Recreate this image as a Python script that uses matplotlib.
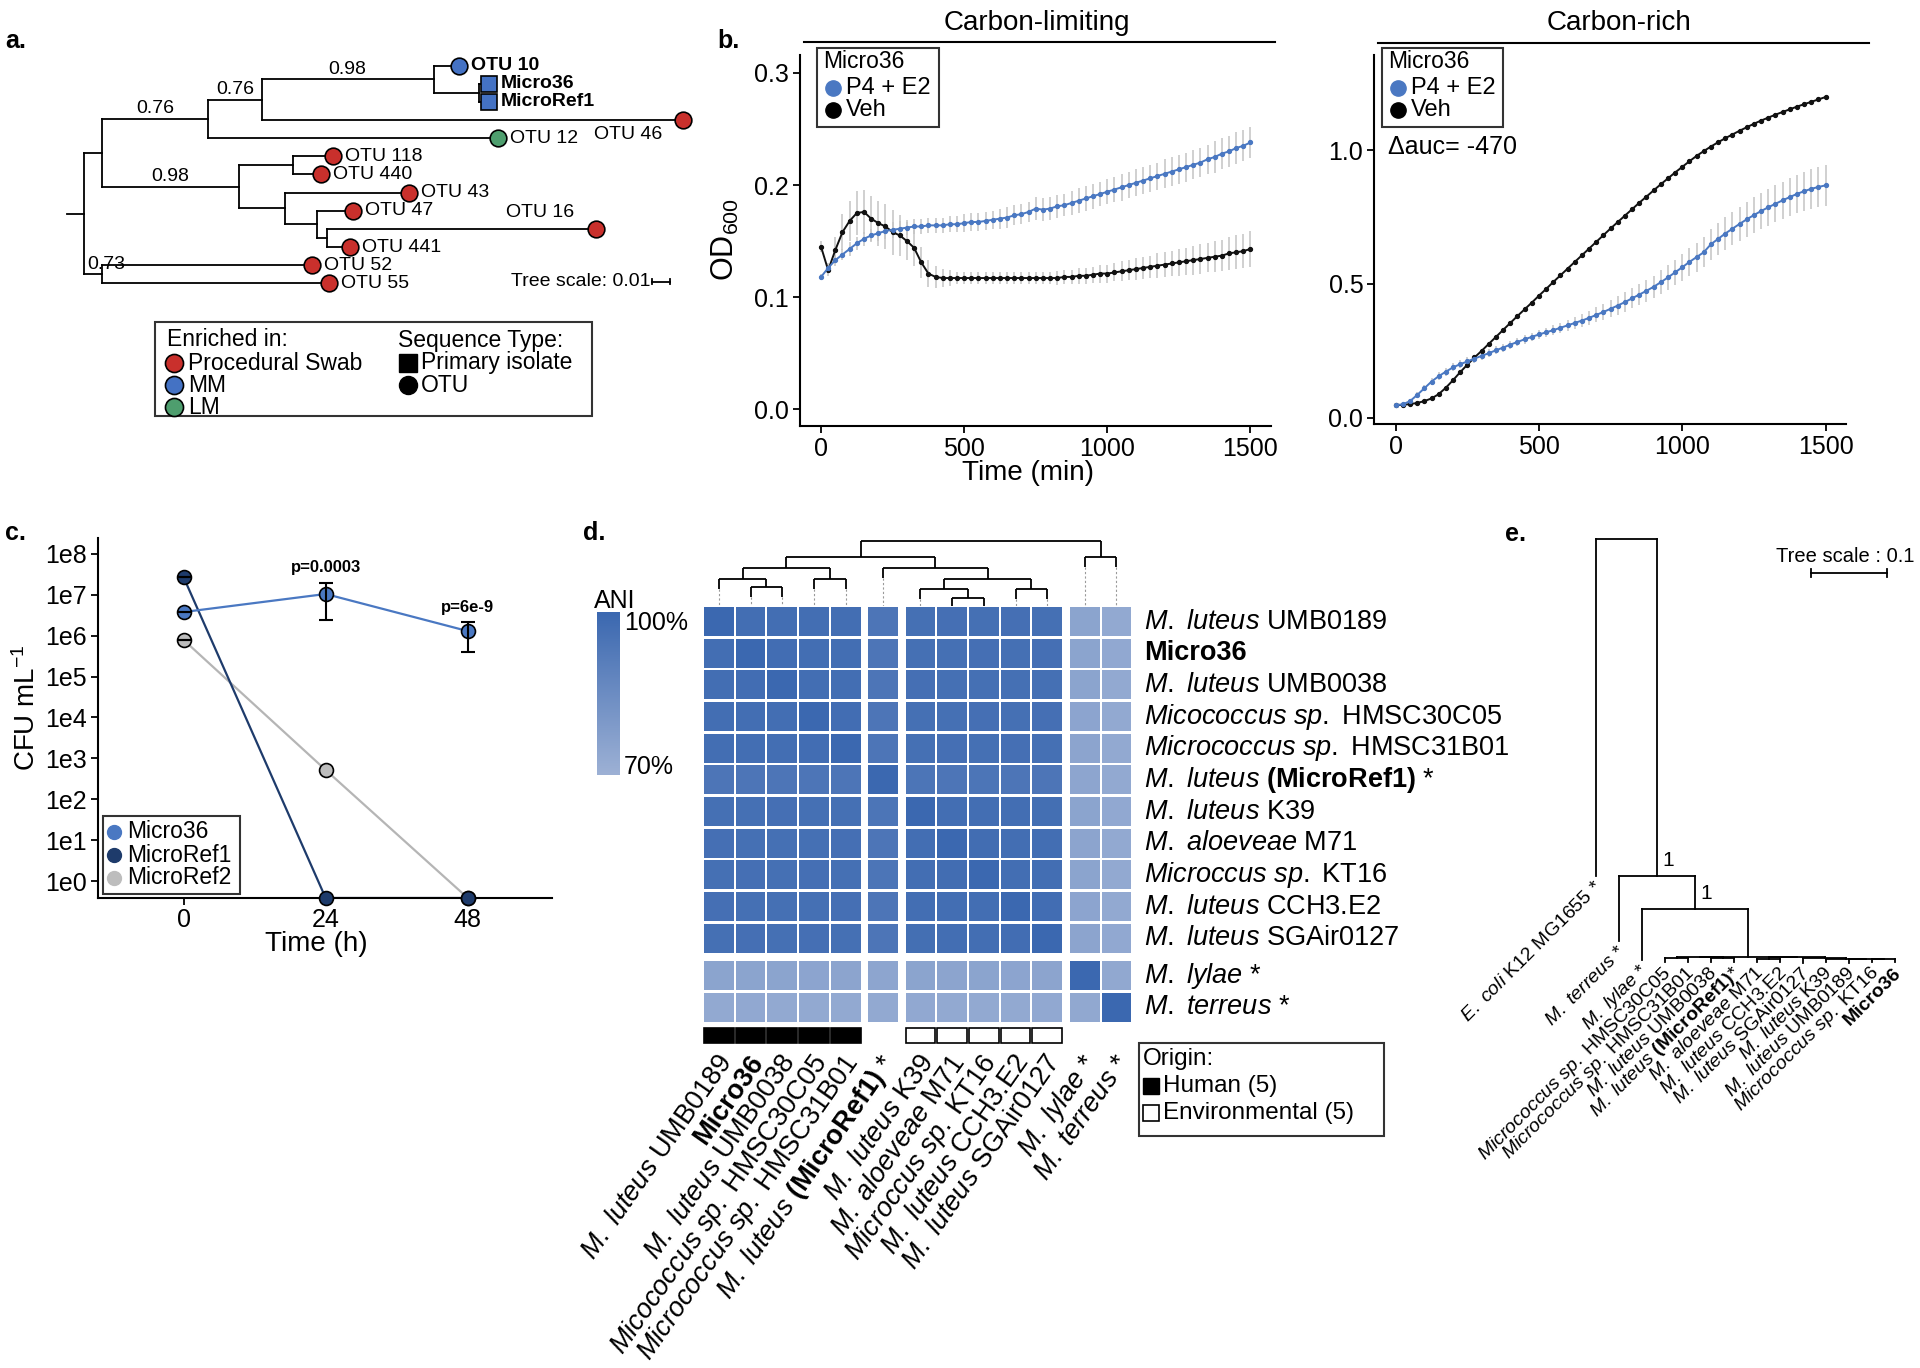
import numpy as np
import matplotlib
matplotlib.use("Agg")
import matplotlib.pyplot as plt
from matplotlib.patches import Rectangle
from matplotlib.lines import Line2D
from matplotlib.collections import LineCollection
from matplotlib.colors import LinearSegmentedColormap, Normalize

plt.rcParams['font.family'] = ['Liberation Sans', 'DejaVu Sans']
plt.rcParams['mathtext.fontset'] = 'custom'
plt.rcParams['mathtext.rm'] = 'Liberation Sans'
plt.rcParams['mathtext.it'] = 'Liberation Sans:italic'
plt.rcParams['mathtext.bf'] = 'Liberation Sans:bold'

# ----------------------------------------------------------------- data
# panel a : 16S tree (name, branch length, support, children)
tree_a = ("", 0.0, None, [
    ("", 0.010, None, [
        ("", 0.0588, "0.76", [
            ("", 0.0293, "0.76", [
                ("", 0.095, "0.98", [
                    ("OTU 10", 0.0138, None, []),
                    ("", 0.025, None, [
                        ("Micro36", 0.0053, None, []),
                        ("MicroRef1", 0.0053, None, []),
                    ]),
                ]),
                ("OTU 46", 0.2325, None, []),
            ]),
            ("OTU 12", 0.160, None, []),
        ]),
        ("", 0.0755, "0.98", [
            ("", 0.030, None, [("OTU 118", 0.022, None, []),
                               ("OTU 440", 0.0153, None, [])]),
            ("", 0.0253, None, [
                ("OTU 43", 0.0688, None, []),
                ("", 0.018, None, [
                    ("OTU 47", 0.020, None, []),
                    ("", 0.0055, None, [("OTU 16", 0.1483, None, []),
                                        ("OTU 441", 0.0128, None, [])]),
                ]),
            ]),
        ]),
    ]),
    ("", 0.010, "0.73", [("OTU 52", 0.1158, None, []),
                         ("OTU 55", 0.1253, None, [])]),
])
root_stem_a = 0.0093
enriched_in = {"OTU 10": "MM", "Micro36": "MM", "MicroRef1": "MM", "OTU 12": "LM"}
primary_isolates = ["Micro36", "MicroRef1"]
bold_tips = ["OTU 10", "Micro36", "MicroRef1"]
group_colors = {"Procedural Swab": "#c9302c", "MM": "#4472c4", "LM": "#4e9e6e"}

# panel b : growth curves (OD600)
time_min = np.arange(0, 1501, 25)
lim_p4 = [0.118, 0.126, 0.133, 0.138, 0.143, 0.148, 0.152, 0.155, 0.157, 0.159,
          0.160, 0.161, 0.162, 0.163, 0.163, 0.164, 0.164, 0.164, 0.165, 0.165,
          0.166, 0.167, 0.167, 0.168, 0.169, 0.170, 0.171, 0.173, 0.174, 0.176,
          0.179, 0.178, 0.179, 0.181, 0.182, 0.184, 0.186, 0.188, 0.190, 0.192,
          0.194, 0.196, 0.198, 0.200, 0.202, 0.204, 0.206, 0.208, 0.210, 0.212,
          0.214, 0.216, 0.218, 0.220, 0.223, 0.225, 0.228, 0.230, 0.233, 0.235,
          0.238]
lim_p4_err = [0.003, 0.004, 0.005, 0.005, 0.006, 0.006, 0.006, 0.006, 0.007, 0.007,
              0.007, 0.007, 0.007, 0.007, 0.007, 0.007, 0.007, 0.007, 0.007, 0.007,
              0.008, 0.008, 0.008, 0.008, 0.008, 0.009, 0.009, 0.009, 0.009, 0.009,
              0.010, 0.010, 0.010, 0.010, 0.010, 0.011, 0.011, 0.011, 0.011, 0.011,
              0.011, 0.011, 0.012, 0.012, 0.012, 0.012, 0.012, 0.012, 0.013, 0.013,
              0.013, 0.013, 0.013, 0.013, 0.013, 0.014, 0.014, 0.014, 0.014, 0.014,
              0.014]
lim_veh = [0.145, 0.124, 0.142, 0.158, 0.168, 0.175, 0.176, 0.170, 0.166, 0.163,
           0.158, 0.155, 0.150, 0.144, 0.131, 0.121, 0.118, 0.117, 0.117, 0.117,
           0.117, 0.117, 0.117, 0.117, 0.117, 0.117, 0.117, 0.117, 0.117, 0.117,
           0.117, 0.117, 0.117, 0.117, 0.118, 0.118, 0.119, 0.119, 0.120, 0.121,
           0.121, 0.122, 0.123, 0.124, 0.125, 0.126, 0.127, 0.128, 0.129, 0.130,
           0.131, 0.132, 0.133, 0.134, 0.135, 0.136, 0.137, 0.139, 0.140, 0.141,
           0.143]
lim_veh_err = [0.005, 0.005, 0.012, 0.016, 0.018, 0.020, 0.020, 0.020, 0.020, 0.020,
               0.020, 0.018, 0.017, 0.016, 0.014, 0.012, 0.010, 0.008, 0.007, 0.005,
               0.005, 0.005, 0.005, 0.005, 0.005, 0.005, 0.005, 0.005, 0.005, 0.005,
               0.005, 0.005, 0.005, 0.006, 0.006, 0.006, 0.007, 0.007, 0.007, 0.008,
               0.008, 0.008, 0.009, 0.009, 0.010, 0.010, 0.010, 0.011, 0.011, 0.011,
               0.012, 0.012, 0.013, 0.013, 0.013, 0.014, 0.014, 0.015, 0.015, 0.015,
               0.016]
rich_p4 = [0.047, 0.050, 0.062, 0.085, 0.110, 0.135, 0.155, 0.172, 0.188, 0.200,
           0.210, 0.221, 0.231, 0.241, 0.252, 0.262, 0.273, 0.283, 0.293, 0.302,
           0.311, 0.319, 0.327, 0.336, 0.345, 0.354, 0.363, 0.373, 0.384, 0.395,
           0.407, 0.419, 0.432, 0.446, 0.460, 0.474, 0.489, 0.506, 0.524, 0.543,
           0.562, 0.582, 0.600, 0.618, 0.648, 0.668, 0.688, 0.706, 0.724, 0.741,
           0.757, 0.772, 0.786, 0.799, 0.812, 0.824, 0.836, 0.846, 0.855, 0.862,
           0.868]
rich_p4_err = [0.004, 0.006, 0.008, 0.010, 0.012, 0.013, 0.014, 0.015, 0.015, 0.015,
               0.015, 0.015, 0.015, 0.015, 0.015, 0.015, 0.015, 0.016, 0.016, 0.016,
               0.017, 0.017, 0.018, 0.019, 0.020, 0.022, 0.024, 0.026, 0.028, 0.030,
               0.032, 0.034, 0.036, 0.037, 0.039, 0.040, 0.042, 0.044, 0.046, 0.048,
               0.050, 0.052, 0.054, 0.056, 0.058, 0.060, 0.061, 0.062, 0.064, 0.065,
               0.066, 0.067, 0.068, 0.069, 0.070, 0.071, 0.072, 0.073, 0.074, 0.075,
               0.076]
rich_veh = [0.047, 0.048, 0.051, 0.055, 0.062, 0.072, 0.088, 0.112, 0.140, 0.170,
            0.198, 0.225, 0.250, 0.276, 0.302, 0.328, 0.354, 0.380, 0.405, 0.430,
            0.456, 0.481, 0.507, 0.532, 0.557, 0.582, 0.607, 0.632, 0.657, 0.682,
            0.707, 0.731, 0.755, 0.779, 0.803, 0.826, 0.849, 0.872, 0.894, 0.916,
            0.937, 0.958, 0.978, 0.996, 1.013, 1.029, 1.044, 1.058, 1.072, 1.085,
            1.098, 1.110, 1.121, 1.132, 1.142, 1.152, 1.162, 1.171, 1.180, 1.189,
            1.198]
rich_veh_err = [0.003, 0.003, 0.004, 0.004, 0.004, 0.005, 0.005, 0.006, 0.006, 0.006,
                0.006, 0.006, 0.006, 0.006, 0.006, 0.006, 0.006, 0.006, 0.006, 0.006,
                0.006, 0.006, 0.006, 0.006, 0.006, 0.006, 0.006, 0.006, 0.006, 0.006,
                0.006, 0.006, 0.006, 0.006, 0.006, 0.006, 0.006, 0.006, 0.006, 0.006,
                0.006, 0.006, 0.006, 0.006, 0.006, 0.006, 0.006, 0.006, 0.006, 0.006,
                0.006, 0.006, 0.006, 0.006, 0.006, 0.006, 0.006, 0.006, 0.006, 0.006,
                0.006]
delta_auc = -470

# panel c : CFU per mL
hours = [0, 24, 48]
cfu_micro36 = [3.8e6, 1.05e7, 1.3e6]
cfu_micro36_lo = [3.8e6, 2.4e6, 4.0e5]
cfu_micro36_hi = [3.8e6, 1.95e7, 2.2e6]
cfu_microref1 = [2.7e7, 0, 0]
cfu_microref2 = [7.9e5, 5.2e2, 0]
pvals = ["p=0.0003", "p=6e-9"]

# panel d : ANI heatmap
genomes = [
    r"$\mathit{M.\ luteus}$ UMB0189",
    "Micro36",
    r"$\mathit{M.\ luteus}$ UMB0038",
    r"$\mathit{Micococcus\ sp.}$ HMSC30C05",
    r"$\mathit{Micrococcus\ sp.}$ HMSC31B01",
    r"$\mathit{M.\ luteus}$ $\mathbf{(MicroRef1)}$ *",
    r"$\mathit{M.\ luteus}$ K39",
    r"$\mathit{M.\ aloeveae}$ M71",
    r"$\mathit{Microccus\ sp.}$ KT16",
    r"$\mathit{M.\ luteus}$ CCH3.E2",
    r"$\mathit{M.\ luteus}$ SGAir0127",
    r"$\mathit{M.\ lylae}$ *",
    r"$\mathit{M.\ terreus}$ *",
]
ani = [
    [100, 97.6, 97.5, 97.4, 97.4, 94.6, 96.8, 96.9, 96.8, 96.9, 96.8, 75.5, 73.5],
    [97.6, 100, 97.8, 97.5, 97.5, 94.5, 96.8, 96.8, 96.9, 96.8, 96.9, 75.4, 73.6],
    [97.5, 97.8, 100, 97.6, 97.5, 94.6, 96.9, 96.8, 96.8, 96.8, 96.8, 75.6, 73.5],
    [97.4, 97.5, 97.6, 100, 97.7, 94.4, 96.8, 96.8, 96.9, 96.8, 96.9, 75.2, 73.4],
    [97.4, 97.5, 97.5, 97.7, 100, 94.5, 96.8, 96.9, 96.8, 96.9, 96.8, 75.3, 73.5],
    [94.6, 94.5, 94.6, 94.4, 94.5, 100, 94.7, 94.6, 94.7, 94.5, 94.6, 75.0, 73.3],
    [96.8, 96.8, 96.9, 96.8, 96.8, 94.7, 100, 97.5, 97.6, 97.4, 97.3, 75.4, 73.6],
    [96.9, 96.8, 96.8, 96.8, 96.9, 94.6, 97.5, 100, 97.9, 97.5, 97.4, 75.3, 73.5],
    [96.8, 96.9, 96.8, 96.9, 96.8, 94.7, 97.6, 97.9, 100, 97.6, 97.5, 75.4, 73.4],
    [96.9, 96.8, 96.8, 96.8, 96.9, 94.5, 97.4, 97.5, 97.6, 100, 97.7, 75.2, 73.5],
    [96.8, 96.9, 96.8, 96.9, 96.8, 94.6, 97.3, 97.4, 97.5, 97.7, 100, 75.3, 73.6],
    [75.5, 75.4, 75.6, 75.2, 75.3, 75.0, 75.4, 75.3, 75.4, 75.2, 75.3, 100, 73.8],
    [73.5, 73.6, 73.5, 73.4, 73.5, 73.3, 73.6, 73.5, 73.4, 73.5, 73.6, 73.8, 100],
]
origin = ["Human"] * 5 + [None] + ["Environmental"] * 5 + [None, None]
col_groups = [5, 1, 5, 2]
row_groups = [11, 2]
# column dendrogram merges: (child a, child b, height)
col_merges = [(1, 2, 0.19), (0, 13, 0.27), (3, 4, 0.27), (14, 15, 0.38),
              (7, 8, 0.08), (6, 17, 0.17), (9, 10, 0.17), (18, 19, 0.27),
              (5, 20, 0.38), (16, 21, 0.49), (11, 12, 0.49), (22, 23, 0.65)]

# panel e : whole-genome tree
def leaf(n, bl):
    return (n, bl, None, [])
tree_e = ("", 0.0, None, [
    leaf(r"$\mathit{E.\ coli}$ K12 MG1655 *", 0.444),
    ("", 0.444, "1", [
        leaf(r"$\mathit{M.\ terreus}$ *", 0.0855),
        ("", 0.043, "1", [
            leaf(r"$\mathit{M.\ lylae}$ *", 0.067),
            ("", 0.063, None, [
                ("", 0.0005, None, [
                    ("", 0.001, None, [leaf(r"$\mathit{Micrococcus\ sp.}$ HMSC30C05", 0.006),
                                       leaf(r"$\mathit{Micrococcus\ sp.}$ HMSC31B01", 0.006)]),
                    ("", 0.001, None, [leaf(r"$\mathit{M.\ luteus}$ UMB0038", 0.006),
                                       leaf(r"$\mathit{M.\ luteus}$ $\mathbf{(MicroRef1)}$*", 0.006)]),
                ]),
                ("", 0.001, None, [
                    ("", 0.002, None, [leaf(r"$\mathit{M.\ aloeveae}$ M71", 0.004),
                                       leaf(r"$\mathit{M.\ luteus}$ CCH3.E2", 0.004)]),
                    ("", 0.001, None, [
                        leaf(r"$\mathit{M.\ luteus}$ SGAir0127", 0.006),
                        ("", 0.0005, None, [
                            leaf(r"$\mathit{M.\ luteus}$ K39", 0.005),
                            ("", 0.0005, None, [
                                leaf(r"$\mathit{M.\ luteus}$ UMB0189", 0.005),
                                ("", 0.0005, None, [leaf(r"$\mathit{Micrococcus\ sp.}$ KT16", 0.004),
                                                    leaf("Micro36", 0.004)]),
                            ]),
                        ]),
                    ]),
                ]),
            ]),
        ]),
    ]),
])

# ----------------------------------------------------------------- helpers
W, H = 1920, 1368
fig = plt.figure(figsize=(W / 100, H / 100), dpi=100)
fig.patch.set_facecolor("white")


def axes_px(x0, y0, x1, y1):
    return fig.add_axes([x0 / W, 1 - y1 / H, (x1 - x0) / W, (y1 - y0) / H])


def F(x, y):
    return (x / W, 1 - y / H)


def ftext(x, y, s, **kw):
    return fig.text(x / W, 1 - y / H, s, **kw)


def fbox(x0, y0, x1, y1, lw=1.5):
    r = Rectangle(F(x0, y1), (x1 - x0) / W, (y1 - y0) / H, transform=fig.transFigure,
                  fill=False, ec="#333333", lw=lw)
    fig.add_artist(r)


def fmark(x, y, **kw):
    fig.add_artist(Line2D([x / W], [1 - y / H], transform=fig.transFigure, ls="none", **kw))


def layout_tree(node, d0, counter, out):
    name, bl, sup, kids = node
    d = d0 + bl
    if not kids:
        pos = counter[0]
        counter[0] += 1
        out["tips"].append((name, d, pos))
    else:
        ps = [layout_tree(k, d, counter, out) for k in kids]
        pos = (min(ps) + max(ps)) / 2
        out["cross"].append((d, min(ps), max(ps), pos))
    out["stems"].append((d0, d, pos))
    if sup:
        out["sup"].append((sup, d0, d, pos))
    return pos


BLUE = "#4a78c2"
NAVY = "#1e3b6b"
GREY = "#bdbdbd"

# ----------------------------------------------------------------- panel labels
for lab, x, y in [("a.", 5, 48), ("b.", 717, 48), ("c.", 5, 540), ("d.", 583, 540), ("e.", 1505, 541)]:
    ftext(x, y, lab, fontsize=18, fontweight="bold", ha="left", va="baseline")

# ----------------------------------------------------------------- panel a
ax_a = axes_px(0, 0, 710, 300)
A_X0, A_PPU, A_Y0, A_PITCH = 83.8, 1811.6, 65.7, 18.13
ax_a.set_xlim(-A_X0 / A_PPU, (710 - A_X0) / A_PPU)
ax_a.set_ylim((300 - A_Y0) / A_PITCH, (0 - A_Y0) / A_PITCH)
ax_a.axis("off")
out_a = {"tips": [], "cross": [], "stems": [], "sup": []}
root_pos_a = layout_tree(tree_a, 0.0, [0], out_a)
segs = [[(x0, y), (x1, y)] for x0, x1, y in out_a["stems"]]
segs += [[(x, y0), (x, y1)] for x, y0, y1, _ in out_a["cross"]]
segs.append([(-root_stem_a, root_pos_a), (0, root_pos_a)])
ax_a.add_collection(LineCollection(segs, colors="black", linewidths=1.3, capstyle="projecting"))
for sup, x0, x1, y in out_a["sup"]:
    ax_a.text(max((x0 + x1) / 2, x0 + 0.0125), y - 0.55, sup, ha="center", va="center", fontsize=14)
label_shift = {"OTU 46": (-20, 14, "right"), "OTU 16": (-22, -16, "right")}
for name, x, y in out_a["tips"]:
    grp = enriched_in.get(name, "Procedural Swab")
    mk = "s" if name in primary_isolates else "o"
    ax_a.plot([x], [y], marker=mk, ms=12 if mk == "o" else 11.5, mfc=group_colors[grp],
              mec="black", mew=1.2, ls="none", zorder=3, clip_on=False)
    dx, dy, ha = label_shift.get(name, (12, 0, "left"))
    ax_a.text(x + dx / A_PPU, y + dy / A_PITCH, name, ha=ha, va="center", fontsize=14,
              fontweight="bold" if name in bold_tips else "normal")
# tree scale
xs = (652 - A_X0) / A_PPU
ys = (281.7 - A_Y0) / A_PITCH
ax_a.plot([xs, xs + 0.01], [ys, ys], color="black", lw=1.3)
for xx in (xs, xs + 0.01):
    ax_a.plot([xx, xx], [ys - 0.15, ys + 0.15], color="black", lw=1.3)
ax_a.text(xs - 0.0006, ys, "Tree scale: 0.01", ha="right", va="center", fontsize=14)

# legend a
fbox(155, 322, 592, 416)
ftext(167, 340, "Enriched in:", fontsize=16.5, va="center", ha="left")
for (g, yy) in zip(["Procedural Swab", "MM", "LM"], [363, 385, 407]):
    fmark(173.5, yy, marker="o", ms=13, mfc=group_colors[g], mec="black", mew=1.2)
    ftext(188, yy, g, fontsize=16.5, va="center", ha="left")
ftext(398, 340, "Sequence Type:", fontsize=16.5, va="center", ha="left")
fmark(408, 363, marker="s", ms=12.5, mfc="black", mec="black")
ftext(421, 363, "Primary isolate", fontsize=16.5, va="center", ha="left")
fmark(408, 385, marker="o", ms=13, mfc="black", mec="black")
ftext(421, 385, "OTU", fontsize=16.5, va="center", ha="left")

# ----------------------------------------------------------------- panel b


def growth(ax, p4, p4e, veh, veh_e):
    t = time_min
    for y, e in ((veh, veh_e), (p4, p4e)):
        y = np.array(y); e = np.array(e)
        ax.vlines(t, y - e, y + e, color="#c4c4c4", lw=1.1, zorder=1)
    ax.plot(t, veh, "-o", color="#111111", ms=2.8, lw=1.4, zorder=3)
    ax.plot(t, p4, "-o", color=BLUE, ms=2.8, lw=1.4, zorder=4)
    for s in ("top", "right"):
        ax.spines[s].set_visible(False)
    for s in ("left", "bottom"):
        ax.spines[s].set_linewidth(1.5)
    ax.tick_params(length=5, width=1.3, labelsize=18, pad=3)
    ax.set_xticks([0, 500, 1000, 1500])
    ax.patch.set_alpha(0)


ax_b1 = axes_px(800, 55, 1271.4, 426)
growth(ax_b1, lim_p4, lim_p4_err, lim_veh, lim_veh_err)
ax_b1.set_xlim(-73.4, 1573)
ax_b1.set_ylim(-0.015, 0.316)
ax_b1.set_yticks([0, 0.1, 0.2, 0.3])
ax_b1.set_yticklabels(["0.0", "0.1", "0.2", "0.3"])

ax_b2 = axes_px(1374.4, 55, 1845.6, 424)
growth(ax_b2, rich_p4, rich_p4_err, rich_veh, rich_veh_err)
ax_b2.set_xlim(-74.3, 1570)
ax_b2.set_ylim(-0.0235, 1.355)
ax_b2.set_yticks([0, 0.5, 1.0])
ax_b2.set_yticklabels(["0.0", "0.5", "1.0"])

for (x0, x1, yl, title, cx) in [(804, 1275, 42, "Carbon-limiting", 1037),
                                (1377.6, 1868.5, 43, "Carbon-rich", 1619)]:
    fig.add_artist(Line2D([x0 / W, x1 / W], [1 - yl / H] * 2, transform=fig.transFigure,
                          color="black", lw=1.5))
    ftext(cx, 23, title, fontsize=20, ha="center", va="center")

ftext(725, 240, "OD$_{600}$", fontsize=22, rotation=90, ha="center", va="center")
ftext(1028, 473, "Time (min)", fontsize=20, ha="center", va="center")
ftext(1388, 147, "\u0394auc= %d" % delta_auc, fontsize=18, ha="left", va="center")

for (bx0, bx1, mx) in [(817, 938.5, 832.5), (1382.4, 1503, 1397.6)]:
    fbox(bx0, 48, bx1, 127)
    ftext(bx0 + 6, 62, "Micro36", fontsize=16.5, ha="left", va="center")
    fmark(mx, 88, marker="o", ms=11, mfc=BLUE, mec=BLUE)
    ftext(mx + 13.5, 88, "P4 + E2", fontsize=17, ha="left", va="center")
    fmark(mx, 110, marker="o", ms=11, mfc="black", mec="black")
    ftext(mx + 13.5, 110, "Veh", fontsize=17, ha="left", va="center")

# ----------------------------------------------------------------- panel c
ax_c = axes_px(98.1, 538, 551.8, 898)
ax_c.set_yscale("log")
ax_c.set_xlim(-14.44, 62.2)
ybot = 10 ** -0.4157
ax_c.set_ylim(ybot, 10 ** 8.391)


def clip0(v):
    return [x if x > 0 else ybot for x in v]


ax_c.plot(hours, clip0(cfu_microref2), "-", color="#b5b5b5", lw=1.6, zorder=2)
ax_c.plot(hours, clip0(cfu_microref1), "-", color=NAVY, lw=1.6, zorder=2)
ax_c.plot(hours, cfu_micro36, "-", color=BLUE, lw=1.6, zorder=2)
ax_c.plot(hours, clip0(cfu_microref2), "o", ms=10, mfc=GREY, mec="black", mew=1.2, zorder=3, clip_on=False)
ax_c.plot(hours, clip0(cfu_microref1), "o", ms=10, mfc=NAVY, mec="black", mew=1.2, zorder=4, clip_on=False)
ax_c.plot(hours, cfu_micro36, "o", ms=10, mfc=BLUE, mec="black", mew=1.2, zorder=4, clip_on=False)
yerr = [np.array(cfu_micro36) - np.array(cfu_micro36_lo), np.array(cfu_micro36_hi) - np.array(cfu_micro36)]
ax_c.errorbar(hours, cfu_micro36, yerr=yerr, fmt="none", ecolor="black", elinewidth=1.5,
              capsize=5, capthick=1.5, zorder=5)
ax_c.errorbar([hours[0]], [cfu_microref1[0]], yerr=[[0], [0]], fmt="none", ecolor="black",
              capsize=5, capthick=1.5, zorder=5)
ax_c.errorbar([hours[0]], [cfu_microref2[0]], yerr=[[0], [0]], fmt="none", ecolor="black",
              capsize=5, capthick=1.5, zorder=5)
ax_c.text(hours[1], cfu_micro36_hi[1] * 10 ** 0.37, pvals[0], ha="center", va="center",
          fontsize=12, fontweight="bold")
ax_c.text(hours[2], cfu_micro36_hi[2] * 10 ** 0.36, pvals[1], ha="center", va="center",
          fontsize=12, fontweight="bold")
ax_c.set_yticks([10.0 ** k for k in range(9)])
ax_c.set_yticklabels(["1e%d" % k for k in range(9)])
ax_c.yaxis.set_minor_locator(matplotlib.ticker.NullLocator())
ax_c.set_xticks(hours)
for s in ("top", "right"):
    ax_c.spines[s].set_visible(False)
for s in ("left", "bottom"):
    ax_c.spines[s].set_linewidth(1.5)
ax_c.tick_params(length=5, width=1.3, labelsize=18, pad=3)
ax_c.tick_params(axis="x", pad=2)
ax_c.patch.set_alpha(0)
ftext(27, 708, "CFU mL$^{-1}$", fontsize=20, rotation=90, ha="center", va="center")
ftext(316, 944, "Time (h)", fontsize=20, ha="center", va="center")
fbox(102.5, 816, 240, 894)
for (lab, col, yy) in [("Micro36", BLUE, 832), ("MicroRef1", NAVY, 855), ("MicroRef2", GREY, 878)]:
    fmark(113.8, yy, marker="o", ms=10, mfc=col, mec=col)
    ftext(127, yy, lab, fontsize=16.5, ha="left", va="center")

# ----------------------------------------------------------------- panel d
cmap = LinearSegmentedColormap.from_list("ani", ["#9db1d5", "#3b68b0"])
norm = Normalize(70, 100)
GAP = 0.18


def group_positions(groups):
    pos = []
    off = 0.0
    k = 0
    for gi, n in enumerate(groups):
        for _ in range(n):
            pos.append(k + off)
            k += 1
        off += GAP
    return pos


cpos = group_positions(col_groups)
rpos = group_positions(row_groups)
ncol_span = cpos[-1] + 1
nrow_span = rpos[-1] + 1
ax_hm = axes_px(703, 605.7, 703 + ncol_span * 31.7, 605.7 + nrow_span * 31.67)
ax_hm.set_xlim(0, ncol_span)
ax_hm.set_ylim(nrow_span, 0)
ax_hm.axis("off")
for i, row in enumerate(ani):
    for j, v in enumerate(row):
        ax_hm.add_patch(Rectangle((cpos[j] + 0.0315, rpos[i] + 0.042), 0.937, 0.916,
                                  facecolor=cmap(norm(v)), edgecolor="none"))
# origin annotation
for j, o in enumerate(origin):
    if o is None:
        continue
    ax_hm.add_patch(Rectangle((cpos[j] + 0.03, 13.35), 0.94, 0.445,
                              facecolor="black" if o == "Human" else "white",
                              edgecolor="black", lw=1.2, clip_on=False))
# labels
for i, lab in enumerate(genomes):
    ax_hm.text(13.91, rpos[i] + 0.5, lab, ha="left", va="center", fontsize=19.5,
               fontweight="bold" if lab == "Micro36" else "normal", clip_on=False)
for j, lab in enumerate(genomes):
    ax_hm.text(cpos[j] + 0.5 + 0.25, 14.27, lab, ha="right", va="center", fontsize=19.5,
               rotation=55, rotation_mode="anchor",
               fontweight="bold" if lab == "Micro36" else "normal", clip_on=False)
# dendrogram
ax_dg = axes_px(703, 530, 703 + ncol_span * 31.7, 605.7)
ax_dg.set_xlim(0, ncol_span)
ax_dg.set_ylim(0, 0.757)
ax_dg.axis("off")
nx = {j: cpos[j] + 0.5 for j in range(len(genomes))}
nh = {j: 0.0 for j in range(len(genomes))}
solid, dashed = [], []
for k, (a, b, h) in enumerate(col_merges):
    idx = len(genomes) + k
    nx[idx] = (nx[a] + nx[b]) / 2
    nh[idx] = h
    solid.append([(nx[a], h), (nx[b], h)])
    for c in (a, b):
        if c < len(genomes):
            lo = max(h - 0.1, 0.0)
            solid.append([(nx[c], h), (nx[c], lo)])
            if lo > 0:
                dashed.append([(nx[c], lo), (nx[c], 0.0)])
        else:
            solid.append([(nx[c], h), (nx[c], nh[c])])
ax_dg.add_collection(LineCollection(solid, colors="black", linewidths=1.3))
ax_dg.add_collection(LineCollection(dashed, colors="#9a9a9a", linewidths=0.8, linestyles=(0, (2, 2))))
# colour bar
ax_cb = axes_px(597, 612, 620, 775)
ax_cb.imshow(np.linspace(100, 70, 200)[:, None], aspect="auto", cmap=cmap, norm=norm,
             extent=[0, 1, 70, 100])
ax_cb.axis("off")
ftext(594, 601, "ANI", fontsize=18, ha="left", va="center")
ftext(624, 623, "100%", fontsize=18, ha="left", va="center")
ftext(624, 767, "70%", fontsize=18, ha="left", va="center")
# origin legend
fbox(1139, 1043, 1384, 1136)
ftext(1143, 1059, "Origin:", fontsize=17.5, ha="left", va="center")
fmark(1151, 1086, marker="s", ms=11, mfc="black", mec="black")
ftext(1163, 1086, "Human (5)", fontsize=17.5, ha="left", va="center")
fmark(1151, 1113, marker="s", ms=11, mfc="white", mec="black", mew=1.2)
ftext(1163, 1113, "Environmental (5)", fontsize=17.5, ha="left", va="center")

# ----------------------------------------------------------------- panel e
ax_e = axes_px(1480, 515, 1920, 1000)
E_X0, E_PITCH, E_Y0, E_PPU = 1596.0, 23.0, 538.6, 760.0
ax_e.set_xlim((1480 - E_X0) / E_PITCH, (1920 - E_X0) / E_PITCH)
ax_e.set_ylim((1000 - E_Y0) / E_PPU, (515 - E_Y0) / E_PPU)
ax_e.axis("off")
out_e = {"tips": [], "cross": [], "stems": [], "sup": []}
layout_tree(tree_e, 0.0, [0], out_e)
segs = [[(p, d0), (p, d1)] for d0, d1, p in out_e["stems"] if d1 > d0]
segs += [[(p0, d), (p1, d)] for d, p0, p1, _ in out_e["cross"]]
ax_e.add_collection(LineCollection(segs, colors="black", linewidths=1.3, capstyle="projecting"))
for sup, d0, d1, p in out_e["sup"]:
    ax_e.text(p + 0.48, d1 - 0.02, sup, ha="center", va="center", fontsize=15)
for name, d, p in out_e["tips"]:
    ax_e.text(p + 4 / E_PITCH, d + 8 / E_PPU, name, rotation=45, rotation_mode="anchor",
              ha="right", va="center", fontsize=14, clip_on=False,
              fontweight="bold" if name == "Micro36" else "normal")
# tree scale
px_per_depth = ax_e.bbox.height / abs(np.diff(ax_e.get_ylim())[0])
px_per_pos = ax_e.bbox.width / abs(np.diff(ax_e.get_xlim())[0])
bar_len = 0.1 * px_per_depth / px_per_pos
bx1 = (1887 - E_X0) / E_PITCH
by = (573 - E_Y0) / E_PPU
ax_e.plot([bx1 - bar_len, bx1], [by, by], color="black", lw=1.3)
for xx in (bx1 - bar_len, bx1):
    ax_e.plot([xx, xx], [by - 0.005, by + 0.005], color="black", lw=1.3)
ax_e.text((1915 - E_X0) / E_PITCH, (556.5 - E_Y0) / E_PPU, "Tree scale : 0.1",
          ha="right", va="center", fontsize=14.5)

fig.savefig("out.png", dpi=100, facecolor="white")
